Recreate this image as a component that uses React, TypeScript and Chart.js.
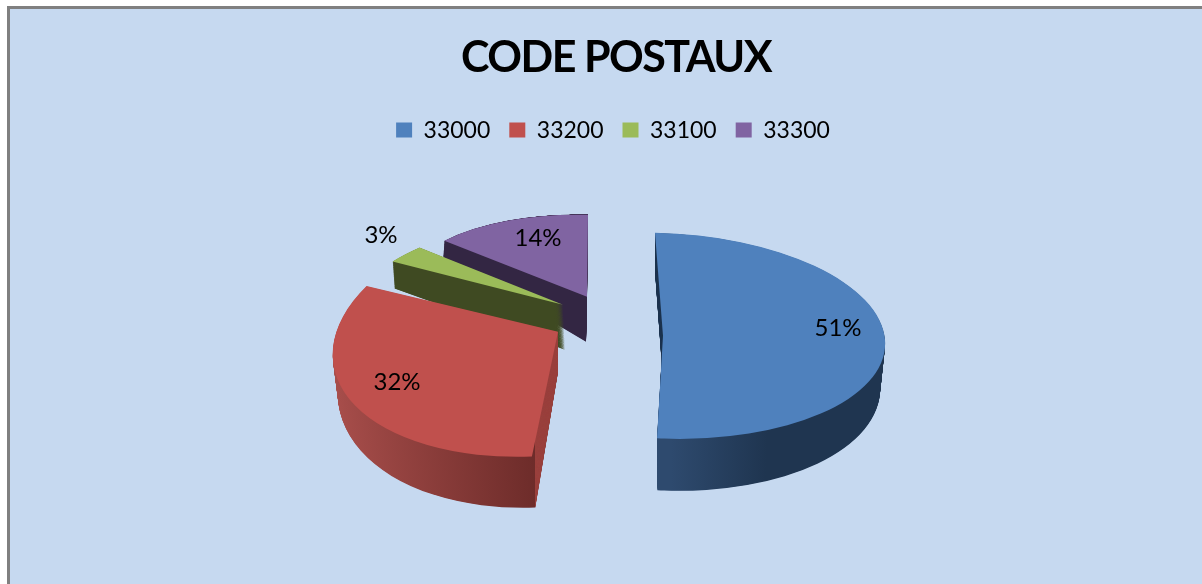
import React, { useEffect, useRef } from "react";
import { Chart, registerables } from "chart.js";

Chart.register(...registerables);

const TITLE = "CODE POSTAUX";
const categories = ["33000", "33200", "33100", "33300"];
const shares = [51, 32, 3, 14];
const faceColors = ["#4f81bd", "#c0504d", "#9bbb59", "#8064a2"];

const PAGE_BG = "#c6d9f0";
const FRAME = "#808080";

// Per-slice 3D look: linear projection of the disc and explode shift from the chart centre.
const topViews = [
  { dx: 50, dy: 16, a: 222, b: 4, c: 8, d: 103 },
  { dx: -55, dy: 12, a: 225, b: -16, c: -12, d: 124 },
  { dx: -50, dy: -15, a: 211, b: 0, c: -30, d: 90 },
  { dx: -26, dy: -23, a: 186, b: 5, c: -1, d: 82 },
];
const bottomViews = [
  { dx: 50, dy: 61, a: 217, b: 4, c: 8, d: 110 },
  { dx: -55, dy: 52, a: 220, b: -16, c: -9, d: 135 },
  { dx: -48, dy: 30, a: 211, b: 0, c: -30, d: 127 },
  { dx: -27, dy: 22, a: 186, b: 5, c: -1, d: 127 },
];
const wallStops: [number, string][][] = [
  [[0, "#2e4a6e"], [0.5, "#2e4a6e"], [0.72, "#1f3550"], [1, "#1f3550"]],
  [[0, "#a84e4b"], [0.5, "#6a2a28"], [1, "#6a2a28"]],
  [[0, "#3f4a22"], [1, "#3f4a22"]],
  [[0, "#332643"], [1, "#332643"]],
];
// Walls that are flat-shaded cut faces, as a region relative to the chart centre.
const cutWalls: (null | { x: number; y: number; w: number; h: number; color: string })[] = [
  { x: 0, y: -200, w: 80, h: 270, color: "#1f3550" },
  { x: -78, y: -100, w: 200, h: 400, color: "#9a403e" },
  null,
  null,
];
const labelShift = [
  { dx: 225, dy: 8 },
  { dx: -216, dy: 62 },
  { dx: -232, dy: -85 },
  { dx: -75, dy: -82 },
];
const drawOrder = [3, 2, 1, 0];
const DEPTH_STEPS = 70;

const pie3d = {
  id: "pie3d",
  afterLayout(chart: any) {
    const block = chart.titleBlock;
    block.left += 3;
    block.right += 3;
    if (!block.$tracked) {
      const original = block.draw;
      block.draw = function (...args: any[]) {
        const ctx = chart.ctx;
        const prev = ctx.letterSpacing;
        ctx.letterSpacing = "-1.5px";
        original.apply(this, args);
        ctx.letterSpacing = prev;
      };
      block.$tracked = true;
    }
  },
  beforeDraw(chart: any) {
    const { ctx, width, height } = chart;
    ctx.save();
    ctx.fillStyle = "#ffffff";
    ctx.fillRect(0, 0, width, height);
    ctx.fillStyle = FRAME;
    ctx.fillRect(7, 6, width - 7, height - 6);
    ctx.fillStyle = PAGE_BG;
    ctx.fillRect(10, 9, width - 10, height - 9);
    ctx.restore();
  },
  beforeDatasetDraw(chart: any) {
    const { ctx } = chart;
    const arcs = chart.getDatasetMeta(0).data;
    const place = (el: any, v: any) => {
      const R = el.outerRadius;
      ctx.translate(el.x + v.dx, el.y + v.dy);
      ctx.transform(v.a / R, v.b / R, v.c / R, v.d / R, 0, 0);
      ctx.translate(-el.x, -el.y);
    };
    const paint = (el: any, v: any, fill: any) => {
      const base = el.options;
      el.options = { ...base, backgroundColor: fill, borderWidth: 0 };
      ctx.save();
      place(el, v);
      el.draw(ctx);
      ctx.restore();
      el.options = base;
    };
    const mix = (p: any, q: any, t: number) => {
      const out: any = {};
      for (const k of Object.keys(p)) out[k] = p[k] + (q[k] - p[k]) * t;
      return out;
    };
    for (const i of drawOrder) {
      const el = arcs[i];
      const R = el.outerRadius;
      const grad = ctx.createLinearGradient(el.x - R, 0, el.x + R, 0);
      for (const [s, col] of wallStops[i]) grad.addColorStop(s, col);
      const top = topViews[i];
      const bottom = bottomViews[i];
      for (let s = DEPTH_STEPS; s >= 1; s--) paint(el, mix(top, bottom, s / DEPTH_STEPS), grad);
      const cut = cutWalls[i];
      if (cut) {
        ctx.save();
        ctx.beginPath();
        ctx.rect(el.x + cut.x, el.y + cut.y, cut.w, cut.h);
        ctx.clip();
        for (let s = DEPTH_STEPS; s >= 1; s--) paint(el, mix(top, bottom, s / DEPTH_STEPS), cut.color);
        ctx.restore();
      }
      paint(el, top, faceColors[i]);
    }
    return false;
  },
  afterDatasetsDraw(chart: any) {
    const { ctx } = chart;
    const arcs = chart.getDatasetMeta(0).data;
    const total = shares.reduce((p, q) => p + q, 0);
    ctx.save();
    ctx.font = "24px Lato";
    ctx.fillStyle = "#000000";
    ctx.textAlign = "center";
    ctx.textBaseline = "middle";
    arcs.forEach((el: any, i: number) => {
      const text = Math.round((shares[i] / total) * 100) + "%";
      ctx.fillText(text, el.x + labelShift[i].dx, el.y + labelShift[i].dy);
    });
    ctx.restore();
  },
};

export default function App() {
  const ref = useRef<HTMLCanvasElement | null>(null);
  useEffect(() => {
    const chart = new Chart(ref.current as HTMLCanvasElement, {
      type: "pie",
      data: {
        labels: categories,
        datasets: [{ data: shares, backgroundColor: faceColors, borderWidth: 0 }],
      },
      options: {
        responsive: false,
        animation: false,
        rotation: 0,
        layout: { padding: { top: 0, bottom: 96, left: 24, right: 0 } },
        plugins: {
          tooltip: { enabled: false },
          title: {
            display: true,
            text: TITLE,
            color: "#000000",
            font: { family: "Lato", size: 43, weight: "bold" },
            padding: { top: 32, bottom: 16 },
          },
          legend: {
            position: "top",
            labels: {
              color: "#000000",
              font: { family: "Lato", size: 23 },
              boxWidth: 16,
              boxHeight: 15,
              padding: 19,
            },
          },
        },
      },
      plugins: [pie3d],
    } as any);
    return () => chart.destroy();
  }, []);
  return (
    <div style={{ position: "absolute", left: 0, top: 0 }}>
      <canvas ref={ref} width={1202} height={584} style={{ display: "block" }} />
    </div>
  );
}
